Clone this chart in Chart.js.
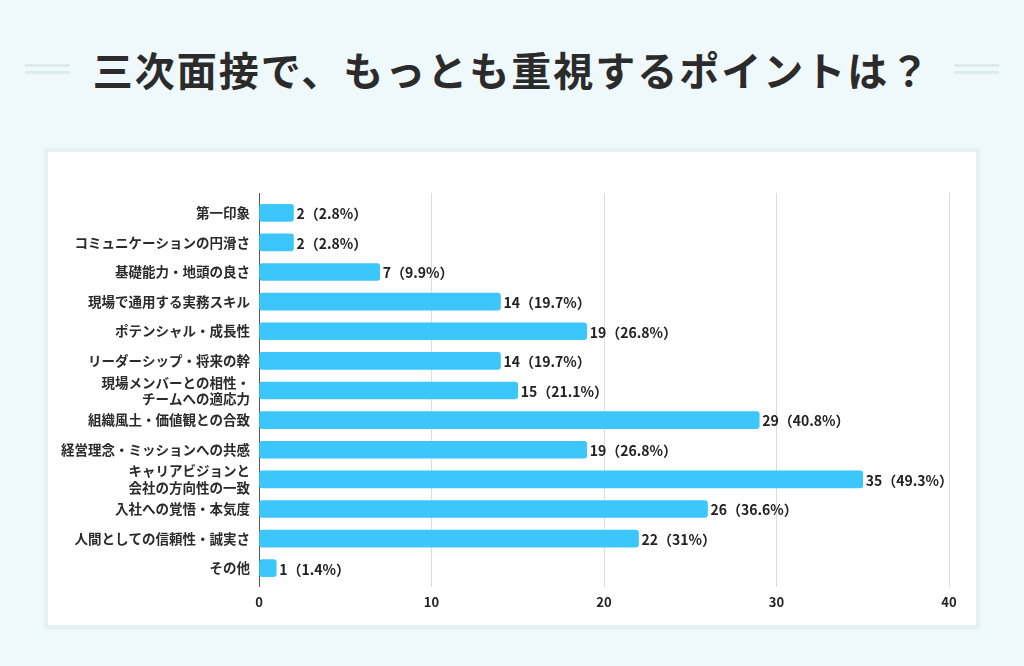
<!DOCTYPE html>
<html lang="ja">
<head>
<meta charset="utf-8">
<script src="https://cdn.jsdelivr.net/npm/chart.js@4"></script>
<style>
  html, body { margin: 0; padding: 0; }
  body { width: 1024px; height: 666px; background: #eff8fb; position: relative; overflow: hidden; font-family: "Noto Sans CJK JP", "Noto Sans", sans-serif; }
  .title { position: absolute; left: 0; top: 42px; width: 1024px; text-align: center; font-size: 40px; font-weight: 700; letter-spacing: 2px; color: #2b2b2b; line-height: 54px; }
  .deco { position: absolute; top: 64px; width: 45px; height: 10px; border-top: 3px solid #dcecee; border-bottom: 3px solid #dcecee; box-sizing: border-box; }
  .panel { position: absolute; left: 44px; top: 148px; width: 936px; height: 481px; box-sizing: border-box; background: #fff; border: 4px solid #e3f0f4; }
  #chart { position: absolute; left: 0; top: 0; }
</style>
</head>
<body>
<div class="deco" style="left:25px"></div>
<div class="deco" style="left:954px"></div>
<div class="title">三次面接で、もっとも重視するポイントは？</div>
<div class="panel"></div>
<canvas id="chart" width="1024" height="666"></canvas>
<script>
const categories = [
  '第一印象',
  'コミュニケーションの円滑さ',
  '基礎能力・地頭の良さ',
  '現場で通用する実務スキル',
  'ポテンシャル・成長性',
  'リーダーシップ・将来の幹',
  ['現場メンバーとの相性・', 'チームへの適応力'],
  '組織風土・価値観との合致',
  '経営理念・ミッションへの共感',
  ['キャリアビジョンと', '会社の方向性の一致'],
  '入社への覚悟・本気度',
  '人間としての信頼性・誠実さ',
  'その他',
];
const counts = [2, 2, 7, 14, 19, 14, 15, 29, 19, 35, 26, 22, 1];
const percents = ['2.8', '2.8', '9.9', '19.7', '26.8', '19.7', '21.1', '40.8', '26.8', '49.3', '36.6', '31', '1.4'];
const xTicks = [0, 10, 20, 30, 40];

const FONT = '"Noto Sans CJK JP", "Noto Sans", sans-serif';

const valueLabels = {
  id: 'valueLabels',
  afterDatasetsDraw(chart) {
    const ctx = chart.ctx;
    const meta = chart.getDatasetMeta(0);
    ctx.save();
    ctx.font = `bold 14px ${FONT}`;
    ctx.fillStyle = '#222';
    ctx.textBaseline = 'middle';
    ctx.textAlign = 'left';
    meta.data.forEach((bar, i) => {
      ctx.fillText(`${counts[i]}（${percents[i]}%）`, bar.x + 3, bar.y + 1);
    });
    ctx.restore();
  },
};

const gridColor = (c) => (c.tick && c.tick.value === 0 ? '#555' : '#dcdcdc');

new Chart(document.getElementById('chart'), {
  type: 'bar',
  data: {
    labels: categories,
    datasets: [{
      data: counts,
      backgroundColor: '#3cc6fb',
      borderRadius: 3,
      borderSkipped: false,
      barThickness: 17,
    }],
  },
  options: {
    indexAxis: 'y',
    responsive: false,
    animation: false,
    devicePixelRatio: 1,
    layout: { padding: { top: 193, right: 75, bottom: 0, left: 0 } },
    plugins: { legend: { display: false }, tooltip: { enabled: false } },
    scales: {
      x: {
        type: 'linear',
        position: 'bottom',
        min: 0,
        max: 40,
        afterBuildTicks: (s) => { s.ticks = xTicks.map((v) => ({ value: v })); },
        grid: { color: gridColor, tickColor: gridColor, drawTicks: true, tickLength: 4, lineWidth: 1 },
        border: { display: false },
        ticks: { padding: 7, color: '#222', font: { family: FONT, size: 13, weight: 'bold' } },
        afterFit: (s) => { s.height = 83; },
      },
      x2: {
        type: 'linear',
        position: 'top',
        min: 0,
        max: 40,
        afterBuildTicks: (s) => { s.ticks = xTicks.map((v) => ({ value: v })); },
        grid: { drawOnChartArea: false, drawTicks: true, tickLength: 5, tickColor: gridColor },
        border: { display: false },
        ticks: { display: false },
        afterFit: (s) => { s.height = 5; },
      },
      y: {
        grid: { display: false, drawTicks: false },
        border: { display: false },
        ticks: { autoSkip: false, padding: 9, color: '#2b2b2b', font: { family: FONT, size: 13.5, weight: 'bold', lineHeight: 1.2 } },
        afterFit: (s) => { s.width = 259; },
      },
    },
  },
  plugins: [valueLabels],
});
</script>
</body>
</html>
